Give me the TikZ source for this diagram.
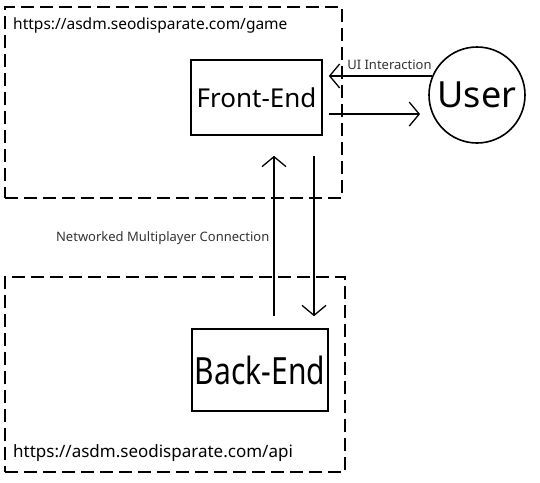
\documentclass[tikz,border=0pt]{standalone}
\usepackage{fontspec}
\setmainfont{Noto Sans}
\usepackage{tikz}
\usetikzlibrary{arrows.meta, positioning}

\begin{document}
\begin{tikzpicture}[
    x=1pt, y=-1pt,
    every node/.style={inner sep=0pt},
    zone/.style={rectangle, draw, line width=1.8pt, dash pattern=on 13pt off 6pt},
    part/.style={rectangle, draw, line width=1.6pt, font=\fontsize{26}{30}\selectfont},
    actor/.style={circle, draw, line width=1.6pt, minimum size=96pt, font=\fontsize{36}{40}\selectfont},
    url/.style={font=\fontsize{15.5}{17}\selectfont, anchor=west},
    tag/.style={font=\fontsize{13}{15}\selectfont, text=black!80},
    arr/.style={-{Straight Barb[length=10pt, width=24pt, line width=1.3pt]}, line width=1.3pt}
]
\useasboundingbox (0,0) rectangle (540,482);
\node[zone, minimum width=337pt, minimum height=191pt] (game) at (173.5,102.5) {};
\node[zone, minimum width=340pt, minimum height=195pt] (api)  at (175,374.5) {};
\node[url] (gameurl) at (13,25) {https://asdm.seodisparate.com/game};
\node[url, font=\fontsize{17}{19}\selectfont] (apiurl) at (13,453) {https://asdm.seodisparate.com/api};
\node[part, minimum width=131pt, minimum height=75pt] (front) at (256.5,97.5) {Front-End};
\node[part, minimum width=136pt, minimum height=82pt, font=\fontsize{30}{34}\selectfont] (back) at (260,370)
    {\scalebox{1}[1.25]{Back-End}};
\node[actor] (user) at (477,95) {User};
\draw[arr, shorten >=6pt] (user.157) -- (front.east |- user.157)
    node[tag, midway, above=6pt, xshift=12pt] (uilabel) {UI Interaction};
\draw[arr, shorten <=6pt, shorten >=12pt] (front.east |- user.203) -- (user.203);
\draw[arr, shorten <=12pt, shorten >=20pt] ([xshift=14pt]back.north) -- ([xshift=14pt]back.north |- front.south)
    node[tag, midway, left=4pt, yshift=-6pt] (netlabel) {Networked Multiplayer Connection};
\draw[arr, shorten <=20pt, shorten >=12pt] ([xshift=54pt]back.north |- front.south) -- ([xshift=54pt]back.north);
\end{tikzpicture}
\end{document}
